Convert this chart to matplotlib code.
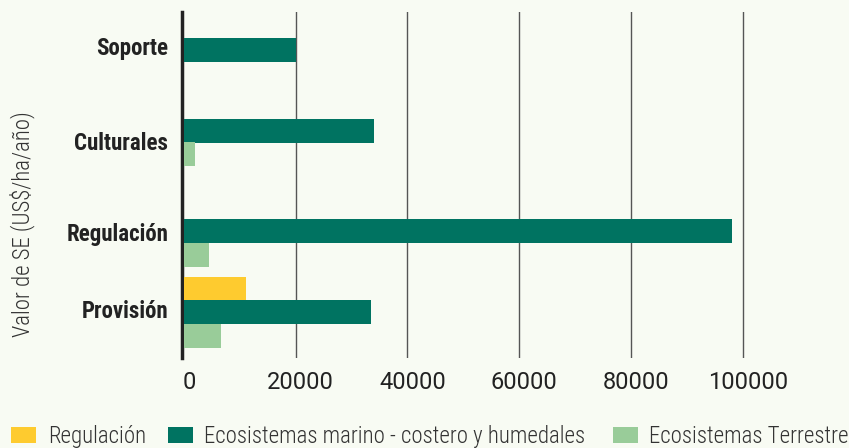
import matplotlib
matplotlib.use('Agg')
import matplotlib.pyplot as plt
from matplotlib.patches import Rectangle
from matplotlib.transforms import ScaledTranslation

# datos (US$/ha/año)
categories = ['Soporte', 'Culturales', 'Regulación', 'Provisión']
series_names = ['Regulación', 'Ecosistemas marino - costero y humedales', 'Ecosistemas Terrestre']
regulacion = [None, None, None, 11100]
marino = [20000, 34000, 98000, 33500]
terrestre = [None, 2000, 4500, 6600]
x_ticks = [0, 20000, 40000, 60000, 80000, 100000]

COLORS = ['#fecb2f', '#007361', '#99cc99']
BG = '#f8fbf3'
TEXT = '#222222'
FONT = ['Roboto Condensed', 'Roboto', 'DejaVu Sans']
# posicion de cada grupo y de su etiqueta (en unidades de barra)
GROUP_Y = [1.62, 5.56, 9.82, 12.77]
LABEL_Y = [1.45, 5.49, 9.36, 12.64]
BAR_H = 1.02
# leyenda: x del cuadro y del texto, en pixeles
LEG_BOX_X = [11, 168, 613]
LEG_TXT_X = [48, 204, 649]

plt.rcParams['font.family'] = FONT

W, H = 849, 448
fig = plt.figure(figsize=(W / 100, H / 100), dpi=100, facecolor=BG)
ax = fig.add_axes([182 / W, 1 - 358 / H, (798.6 - 182) / W, 346 / H])
ax.set_facecolor(BG)

series = [regulacion, marino, terrestre]
for gi, gy in enumerate(GROUP_Y):
    present = [si for si in range(len(series)) if series[si][gi] is not None]
    n = len(present)
    for k, si in enumerate(present):
        y = gy + (k - (n - 1) / 2)
        ax.barh(y, series[si][gi], height=BAR_H, color=COLORS[si], zorder=3)

ax.set_xlim(-360, 110000)
ax.set_ylim(14.72, 0)

ax.set_xticks(x_ticks)
ax.set_xticklabels([str(t) for t in x_ticks], fontsize=17, color=TEXT, family='Roboto')
ax.xaxis.grid(True, color='#555555', lw=1, zorder=1)
ax.get_xgridlines()[0].set_visible(False)
ax.set_axisbelow(True)

ax.set_yticks(LABEL_Y)
ax.set_yticklabels(categories, fontsize=16.5, fontweight='bold', color=TEXT)
ax.tick_params(axis='x', length=0, pad=9)
ax.tick_params(axis='y', length=0, pad=10)

# las etiquetas del eje x van un poco a la derecha
shift = ScaledTranslation(5 / 100, 0, fig.dpi_scale_trans)
for lab in ax.get_xticklabels():
    lab.set_transform(lab.get_transform() + shift)

for s in ['top', 'right', 'bottom']:
    ax.spines[s].set_visible(False)
ax.spines['left'].set_color(TEXT)
ax.spines['left'].set_linewidth(2.5)

fig.text(22.5 / W, 1 - 224 / H, 'Valor de SE (US$/ha/año)', rotation=90,
         ha='center', va='center', fontsize=16.4, fontweight='light', color='#333333')

# leyenda manual
for name, c, bx, tx in zip(series_names, COLORS, LEG_BOX_X, LEG_TXT_X):
    fig.patches.append(Rectangle((bx / W, 5.5 / H), 25 / W, 16 / H, transform=fig.transFigure,
                                 facecolor=c, edgecolor='none'))
    fig.text(tx / W, 5 / H, name, ha='left', va='baseline', fontsize=16.5,
             fontweight='light', color='#333333')

fig.savefig('out.png', dpi=100, facecolor=BG)
